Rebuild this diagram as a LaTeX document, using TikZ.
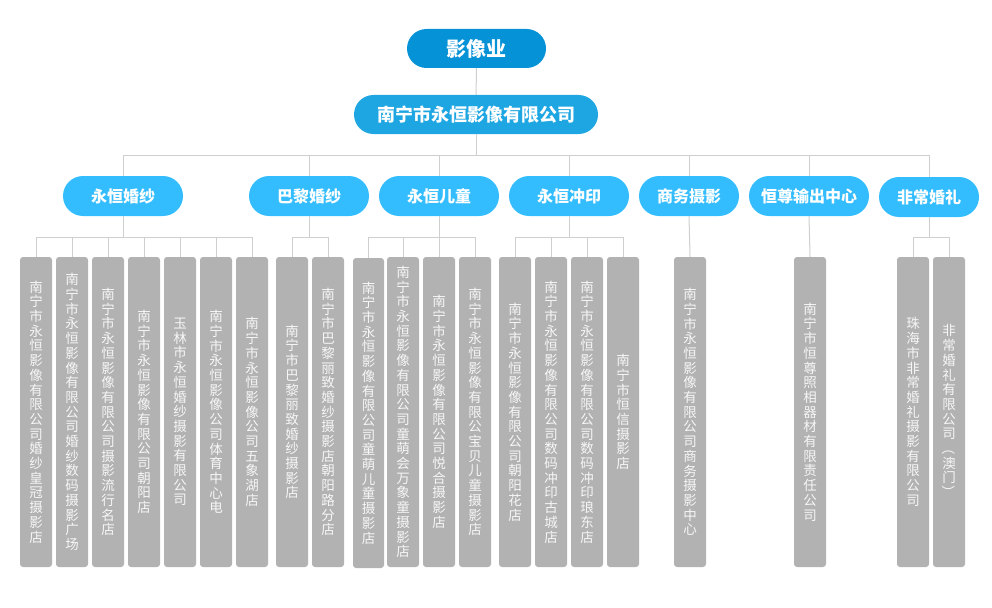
\documentclass[tikz,border=0pt]{standalone}
\usepackage{fontspec}
\newfontfamily\cjk{Noto Sans CJK SC}
\definecolor{rootc}{HTML}{0592D6}
\definecolor{compc}{HTML}{1DA6E2}
\definecolor{brc}{HTML}{33BDFE}
\definecolor{leafc}{HTML}{B2B2B2}
\definecolor{linec}{HTML}{CFCFCF}
\definecolor{leaftxt}{HTML}{F6F6F6}
\def\vtend{\relax}
\def\vtl#1{\def\vttmp{#1}\ifx\vttmp\vtend\else\hbox to 15pt{\hss#1\hss}\expandafter\vtl\fi}
\newcommand\vt[1]{\vbox{\baselineskip=14.7pt\lineskiplimit=-20pt\vtl#1\relax}}
\tikzset{
  pill/.style={rectangle, rounded corners=19.5pt, minimum height=39pt, inner sep=0pt, text=white},
  rootbox/.style={pill, fill=rootc, minimum width=139pt, font=\cjk\bfseries\fontsize{20}{24}\selectfont},
  compbox/.style={pill, fill=compc, minimum width=244pt, font=\cjk\bfseries\fontsize{18}{22}\selectfont},
  brbox/.style={pill, fill=brc, minimum width=120pt, minimum height=40pt, rounded corners=20pt, font=\cjk\bfseries\fontsize{16}{20}\selectfont},
  leaf/.style={rectangle, fill=leafc, rounded corners=3pt, minimum width=32pt, minimum height=310pt, inner sep=0pt, text=leaftxt, font=\cjk\fontsize{13.5}{14.7}\selectfont},
  conn/.style={draw=linec, line width=1pt}
}
\begin{document}
\begin{tikzpicture}[x=1pt,y=-1pt]
\useasboundingbox (0,0) rectangle (992,607);
% levels 1 and 2
\node[rootbox] (root) at (476.5,48.5) {影像业};
\node[compbox] (comp) at (476,114.5) {南宁市永恒影像有限公司};
% level 3
\node[brbox] (b1) at (123,196) {永恒婚纱};
\node[brbox] (b2) at (309,196) {巴黎婚纱};
\node[brbox] (b3) at (439,196) {永恒儿童};
\node[brbox] (b4) at (569,196) {永恒冲印};
\node[brbox, minimum width=100pt] (b5) at (689,196) {商务摄影};
\node[brbox] (b6) at (809,196) {恒尊输出中心};
\node[brbox, minimum width=100pt] (b7) at (929,197) {非常婚礼};
% leaves
\node[leaf] (a1) at (36,412) {\vt{南宁市永恒影像有限公司婚纱皇冠摄影店}};
\node[leaf] (a2) at (72,412) {\vt{南宁市永恒影像有限公司婚纱数码摄影广场}};
\node[leaf] (a3) at (108,412) {\vt{南宁市永恒影像有限公司摄影流行名店}};
\node[leaf] (a4) at (144,412) {\vt{南宁市永恒影像有限公司朝阳店}};
\node[leaf] (a5) at (180,412) {\vt{玉林市永恒婚纱摄影有限公司}};
\node[leaf] (a6) at (216,412) {\vt{南宁市永恒影像公司体育中心电}};
\node[leaf] (a7) at (252,412) {\vt{南宁市永恒影像公司五象湖店}};
\node[leaf] (p1) at (292,412) {\vt{南宁市巴黎丽致婚纱摄影店}};
\node[leaf] (p2) at (328,412) {\vt{南宁市巴黎丽致婚纱摄影店朝阳路分店}};
\node[leaf, minimum width=31pt] (c1) at (368.5,413) {\vt{南宁市永恒影像有限公司童萌儿童摄影店}};
\node[leaf] (c2) at (403,412) {\vt{南宁市永恒影像有限公司童萌会万象童摄影店}};
\node[leaf] (c3) at (439,412) {\vt{南宁市永恒影像有限公司悦合摄影店}};
\node[leaf] (c4) at (475,412) {\vt{南宁市永恒影像有限公宝贝儿童摄影店}};
\node[leaf] (d1) at (515,412) {\vt{南宁市永恒影像有限公司朝阳花店}};
\node[leaf] (d2) at (551,412) {\vt{南宁市永恒影像有限公司数码冲印古城店}};
\node[leaf] (d3) at (587,412) {\vt{南宁市永恒影像有限公司数码冲印琅东店}};
\node[leaf] (d4) at (623,412) {\vt{南宁市恒信摄影店}};
\node[leaf] (e1) at (690,412) {\vt{南宁市永恒影像有限公司商务摄影中心}};
\node[leaf] (f1) at (810,412) {\vt{南宁市恒尊照相器材有限责任公司}};
\node[leaf] (g1) at (913,412) {\vt{珠海市非常婚礼摄影有限公司}};
\node[leaf] (g2) at (949,412) {\vt{非常婚礼有限公司{\rotatebox[origin=c]{-90}{（}}澳门{\rotatebox[origin=c]{-90}{）}}}};
% connectors
\coordinate (top) at (476,155);
\coordinate (low) at (0,237);
\draw[conn] (root) -- (comp);
\draw[conn] (comp.south) -- (top);
\draw[conn] (b1.north |- top) -- (b7.north |- top);
\foreach \b in {b1,b2,b3,b4,b5,b6,b7} \draw[conn] (\b.north) -- (\b.north |- top);
\foreach \b/\first/\last in {b1/a1/a7, b2/p1/p2, b3/c1/c4, b4/d1/d4, b7/g1/g2} {
  \draw[conn] (\b.south) -- (\b.south |- low);
  \draw[conn] (\first.north |- low) -- (\last.north |- low);
}
\foreach \l in {a1,a2,a3,a4,a5,a6,a7,p1,p2,c1,c2,c3,c4,d1,d2,d3,d4,g1,g2}
  \draw[conn] (\l.north) -- (\l.north |- low);
\draw[conn] (b5.south) -- (e1.north);
\draw[conn] (b6.south) -- (f1.north);
\end{tikzpicture}
\end{document}
